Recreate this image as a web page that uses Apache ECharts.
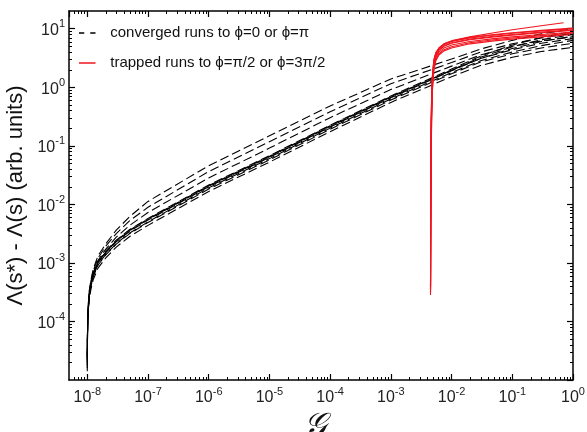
<!DOCTYPE html>
<html><head><meta charset="utf-8">
<script src="https://cdn.jsdelivr.net/npm/echarts@6/dist/echarts.min.js"></script>
<style>html,body{margin:0;padding:0;background:#fff}#c{width:587px;height:432px}</style>
</head><body><div id="c"></div><script>
// ---- data ----
const convergedName = 'converged runs to \u03d5=0 or \u03d5=\u03c0';
const trappedName = 'trapped runs to \u03d5=\u03c0/2 or \u03d5=3\u03c0/2';

const xTickExponents = [-8, -7, -6, -5, -4, -3, -2, -1, 0];
const yTickExponents = [-4, -3, -2, -1, 0, 1];

const convergedX = [1e-8, 1.005e-8, 1.01e-8, 1.02e-8, 1.04e-8, 1.08e-8, 1.15e-8, 1.25e-8, 1.5e-8, 2e-8, 3e-8, 5e-8, 1e-7, 1e-6, 1e-5, 1e-4, 1e-3, 1e-2, 3e-2, 1e-1, 3e-1, 1];
const converged1 = [2.5e-5, 4.5e-5, 7.9e-5, 1.26e-4, 2.0e-4, 3.39e-4, 5.13e-4, 7.76e-4, 1.32e-3, 2.09e-3, 3.63e-3, 6.17e-3, 0.0112, 0.0457, 0.148, 0.479, 1.38, 3.02, 4.47, 6.31, 8.13, 10.0];
const converged2 = [2.24e-5, 4.17e-5, 7.59e-5, 1.20e-4, 1.91e-4, 3.24e-4, 4.90e-4, 7.24e-4, 1.20e-3, 1.91e-3, 3.16e-3, 5.25e-3, 8.91e-3, 0.0363, 0.1175, 0.380, 1.148, 2.63, 3.98, 5.50, 6.92, 8.32];
const converged3 = [2.82e-5, 5.01e-5, 8.32e-5, 1.26e-4, 1.91e-4, 3.16e-4, 4.68e-4, 6.76e-4, 1.10e-3, 1.70e-3, 2.75e-3, 4.37e-3, 7.24e-3, 0.0282, 0.0912, 0.302, 0.912, 2.29, 3.55, 5.01, 6.17, 7.24];
const converged4 = [1.78e-5, 3.55e-5, 6.31e-5, 1.05e-4, 1.70e-4, 2.88e-4, 4.37e-4, 6.46e-4, 1.05e-3, 1.58e-3, 2.45e-3, 3.72e-3, 5.75e-3, 0.0214, 0.0676, 0.224, 0.708, 2.04, 3.39, 5.25, 7.08, 8.91];
const converged5 = [1.58e-5, 3.16e-5, 6.31e-5, 1.07e-4, 1.74e-4, 2.95e-4, 4.37e-4, 6.31e-4, 1.0e-3, 1.48e-3, 2.29e-3, 3.47e-3, 5.37e-3, 0.0200, 0.0631, 0.209, 0.661, 1.905, 3.09, 4.57, 6.03, 7.41];
const converged6 = [2.0e-5, 3.80e-5, 6.61e-5, 1.05e-4, 1.66e-4, 2.75e-4, 4.07e-4, 5.89e-4, 9.33e-4, 1.38e-3, 2.14e-3, 3.24e-3, 5.01e-3, 0.0191, 0.0603, 0.200, 0.631, 1.78, 2.82, 3.98, 5.13, 6.31];
const converged7 = [1.41e-5, 3.16e-5, 6.03e-5, 1.02e-4, 1.70e-4, 2.88e-4, 4.37e-4, 6.46e-4, 1.02e-3, 1.51e-3, 2.34e-3, 3.55e-3, 5.50e-3, 0.0204, 0.0646, 0.214, 0.676, 1.95, 3.24, 4.90, 6.46, 7.94];
const converged8 = [2.51e-5, 4.47e-5, 7.59e-5, 1.12e-4, 1.70e-4, 2.75e-4, 3.98e-4, 5.75e-4, 9.12e-4, 1.35e-3, 2.09e-3, 3.16e-3, 4.90e-3, 0.0182, 0.0575, 0.191, 0.603, 1.70, 2.69, 3.72, 4.68, 5.62];
const converged9 = [2.0e-5, 3.80e-5, 6.76e-5, 1.10e-4, 1.74e-4, 2.88e-4, 4.27e-4, 6.17e-4, 1.0e-3, 1.51e-3, 2.40e-3, 3.63e-3, 5.62e-3, 0.0209, 0.0661, 0.219, 0.692, 1.95, 3.09, 4.37, 5.62, 6.76];
const converged10 = [2.24e-5, 3.98e-5, 6.61e-5, 1.0e-4, 1.51e-4, 2.45e-4, 3.55e-4, 5.13e-4, 8.13e-4, 1.20e-3, 1.86e-3, 2.82e-3, 4.37e-3, 0.0166, 0.0525, 0.174, 0.550, 1.51, 2.34, 3.24, 4.07, 4.79];

const trappedX = [4.5e-3, 4.52e-3, 4.55e-3, 4.6e-3, 4.7e-3, 4.85e-3, 5.1e-3, 5.5e-3, 6.2e-3, 7.5e-3, 1e-2, 2e-2, 5e-2, 1e-1, 3e-1, 1];
const trapped1 = [3.16e-4, 2.51e-3, 0.0200, 0.126, 0.501, 1.26, 2.40, 3.39, 4.27, 5.01, 5.62, 6.46, 7.24, 7.76, 8.51, 9.33];
const trapped2 = [3.98e-4, 1.58e-3, 0.0100, 0.0631, 0.316, 1.0, 2.0, 2.95, 3.72, 4.37, 4.90, 5.75, 6.46, 6.92, 7.59, 8.32];
const trapped3 = [3.55e-4, 3.98e-3, 0.0316, 0.200, 0.708, 1.58, 2.82, 3.72, 4.57, 5.37, 6.03, 6.92, 7.76, 8.32, 9.12, 10.0];
const trapped4 = [2.82e-4, 2.0e-3, 0.0126, 0.100, 0.398, 1.12, 2.19, 3.16, 3.98, 4.68, 5.25, 6.03, 6.76, 7.24, 7.94, 8.71];
const trapped5 = [4.47e-4, 3.16e-3, 0.0251, 0.158, 0.562, 1.41, 2.51, 3.55, 4.37, 5.13, 5.75, 6.61, 7.41, 7.94, 8.71, 9.55];
const trapped6 = [3.16e-4, 1.26e-3, 7.94e-3, 0.0501, 0.251, 0.891, 1.91, 2.82, 3.55, 4.17, 4.68, 5.50, 6.17, 6.61, 7.24, 7.94];
const trapped7 = [3.98e-4, 5.01e-3, 0.0398, 0.251, 0.794, 1.66, 2.95, 3.89, 4.68, 5.50, 6.17, 7.08, 7.94, 8.51, 9.33, 10.2];
const trappedOutlierX = [4.5e-3, 4.52e-3, 4.55e-3, 4.6e-3, 4.7e-3, 4.85e-3, 5.1e-3, 5.5e-3, 6.2e-3, 7.5e-3, 1e-2, 2e-2, 5e-2, 1e-1, 3e-1, 0.7];
const trappedOutlier = [3.55e-4, 3.16e-3, 0.0251, 0.158, 0.631, 1.51, 2.75, 3.80, 4.68, 5.50, 6.17, 7.24, 8.51, 9.55, 11.2, 12.6];

// ---- chart ----
const FONT = 'Liberation Sans';
const convergedRuns = [converged1, converged2, converged3, converged4, converged5, converged6, converged7, converged8, converged9, converged10];
const trappedRuns = [trapped1, trapped2, trapped3, trapped4, trapped5, trapped6, trapped7];

function powLabel(exps) {
  return function (v) {
    const e = Math.round(Math.log10(v));
    if (Math.abs(v / Math.pow(10, e) - 1) > 1e-6) return '';
    if (exps.indexOf(e) < 0) return '';
    return '{b|10}{s|' + e + '}';
  };
}
const rich = {
  b: { fontSize: 16, fontFamily: FONT, color: '#222', lineHeight: 20, verticalAlign: 'bottom' },
  s: { fontSize: 11, fontFamily: FONT, color: '#222', lineHeight: 11, verticalAlign: 'top' }
};

const axisLine = { show: true, lineStyle: { color: '#000', width: 1.5 } };
const axisTick = { show: true, inside: true, length: 6, lineStyle: { color: '#000', width: 1.2 } };

const series = [];
convergedRuns.forEach(run => {
  series.push({
    type: 'line', name: convergedName, symbol: 'none', showSymbol: false, animation: false,
    data: convergedX.map((x, j) => [x, run[j]]),
    lineStyle: { color: '#000', width: 1.1, type: [9, 4] }, itemStyle: { color: '#000' }, z: 2
  });
});
trappedRuns.forEach(run => {
  series.push({
    type: 'line', name: trappedName, symbol: 'none', showSymbol: false, animation: false,
    data: trappedX.map((x, j) => [x, run[j]]),
    lineStyle: { color: '#f0141e', width: 1.1 }, itemStyle: { color: '#f0141e' }, z: 3
  });
});
series.push({
  type: 'line', name: trappedName, symbol: 'none', showSymbol: false, animation: false,
  data: trappedOutlierX.map((x, j) => [x, trappedOutlier[j]]),
  lineStyle: { color: '#f0141e', width: 1.1 }, itemStyle: { color: '#f0141e' }, z: 3
});

// minor ticks (log 2..9 positions), placed through the axis scales
const minorTickData = [];
for (let k = -9; k <= 1; k++) {
  for (let m = 2; m <= 9; m++) {
    const v = m * Math.pow(10, k);
    if (v > 5e-9 && v < 1) minorTickData.push([v, 1, 0]);
    if (v > 1e-5 && v < 20) minorTickData.push([1e-4, v, 1]);
  }
}
series.push({
  type: 'custom', name: 'minor', silent: true, animation: false, z: 5, clip: false,
  data: minorTickData,
  renderItem: function (params, api) {
    const cs = params.coordSys;
    const kind = api.value(2);
    const st = { stroke: '#000', lineWidth: 1 };
    if (kind === 0) {
      const px = Math.round(api.coord([api.value(0), 1])[0]) + 0.5;
      return { type: 'group', children: [
        { type: 'line', shape: { x1: px, y1: cs.y + cs.height, x2: px, y2: cs.y + cs.height - 3 }, style: st },
        { type: 'line', shape: { x1: px, y1: cs.y, x2: px, y2: cs.y + 3 }, style: st }
      ] };
    } else {
      const py = Math.round(api.coord([1e-4, api.value(1)])[1]) + 0.5;
      return { type: 'group', children: [
        { type: 'line', shape: { x1: cs.x, y1: py, x2: cs.x + 3, y2: py }, style: st },
        { type: 'line', shape: { x1: cs.x + cs.width, y1: py, x2: cs.x + cs.width - 3, y2: py }, style: st }
      ] };
    }
  }
});

const option = {
  animation: false,
  backgroundColor: '#fff',
  grid: { left: 69, right: 14, top: 11, bottom: 52, containLabel: false, outerBoundsMode: 'none' },
  legend: {
    data: [
      { name: convergedName, icon: 'path://M0,0h7v2h-7z M15,0h7v2h-7z', itemStyle: { color: '#000' } },
      { name: trappedName, icon: 'path://M0,0h22v2h-22z', itemStyle: { color: '#f0141e' } }
    ],
    orient: 'vertical', left: 74, top: 18,
    itemWidth: 22, itemHeight: 1.5, itemGap: 10,
    textStyle: { fontFamily: FONT, fontSize: 15, color: '#111', lineHeight: 20, padding: [0, 0, 0, 7] }
  },
  xAxis: [
    {
      type: 'log', logBase: 10, min: 5e-9, max: 1, splitNumber: 9, position: 'bottom',
      axisLine: axisLine, axisTick: axisTick, splitLine: { show: false },
      axisLabel: { formatter: powLabel(xTickExponents), rich: rich, margin: 6, showMinLabel: false, showMaxLabel: true, hideOverlap: false },
      name: '\ud835\udca2', nameLocation: 'middle', nameGap: 20,
      nameTextStyle: { fontSize: 32, fontFamily: 'DejaVu Serif', fontStyle: 'italic', color: '#111', padding: [0, 12, 0, 0] }
    },
    {
      type: 'log', logBase: 10, min: 5e-9, max: 1, splitNumber: 9, position: 'top',
      axisLine: axisLine, axisTick: axisTick, splitLine: { show: false }, axisLabel: { show: false }
    }
  ],
  yAxis: [
    {
      type: 'log', logBase: 10, min: 1e-5, max: 20, splitNumber: 7, position: 'left',
      axisLine: axisLine, axisTick: axisTick, splitLine: { show: false },
      axisLabel: { formatter: powLabel(yTickExponents), rich: rich, margin: 4, showMinLabel: false, showMaxLabel: false, hideOverlap: false },
      name: '\u039b(s*) - \u039b(s) (arb. units)', nameLocation: 'middle', nameGap: 36,
      nameTextStyle: { fontSize: 22, fontFamily: FONT, color: '#111' }
    },
    {
      type: 'log', logBase: 10, min: 1e-5, max: 20, splitNumber: 7, position: 'right',
      axisLine: axisLine, axisTick: axisTick, splitLine: { show: false }, axisLabel: { show: false }
    }
  ],
  series: series
};
const chart = echarts.init(document.getElementById('c'), null, { renderer: 'canvas' });
chart.setOption(option);
</script></body></html>
